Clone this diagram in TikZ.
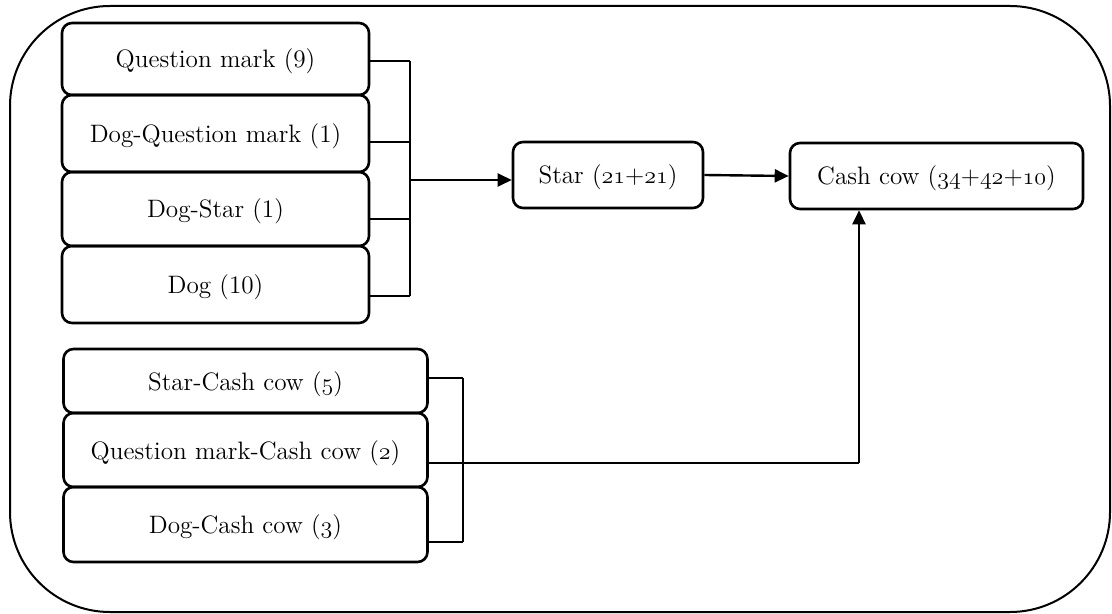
\documentclass[tikz,border=0pt]{standalone}
\usetikzlibrary{arrows.meta}
\newcommand{\osn}[1]{$\mathnormal{#1}$}
\begin{document}
\begin{tikzpicture}[x=0.5pt,y=-0.5pt,
  box/.style={draw,line width=1.3pt,rounded corners=5pt,inner sep=0pt,text height=9pt,text depth=0pt,font=\fontsize{12.6}{14}\selectfont,align=center},
  ln/.style={line width=1.2pt},
  arr/.style={line width=1.2pt,-{Triangle[length=7pt,width=6.5pt]}}]
\useasboundingbox (0,0) rectangle (1112,614);
\draw[line width=1pt,rounded corners=50pt] (10,6) rectangle (1110,612);

% top group
\node[box,minimum width=153.5pt,minimum height=36pt] (q1) at (215.5,59) {Question mark (9)};
\node[box,minimum width=153.5pt,minimum height=38.5pt] (q2) at (215.5,133.5) {Dog-Question mark (1)};
\node[box,minimum width=153.5pt,minimum height=37pt] (q3) at (215.5,209) {Dog-Star (1)};
\node[box,minimum width=153.5pt,minimum height=38.5pt] (q4) at (215.5,284.5) {Dog (10)};

% bottom group
\node[box,minimum width=182pt,minimum height=32pt] (r1) at (245.5,381) {Star-Cash cow (\osn{5})};
\node[box,minimum width=182pt,minimum height=37pt] (r2) at (245.5,450) {Question mark-Cash cow (\osn{2})};
\node[box,minimum width=182pt,minimum height=37.5pt] (r3) at (245.5,524.5) {Dog-Cash cow (\osn{3})};

% right nodes
\node[box,minimum width=95pt,minimum height=33pt] (star) at (608,175) {Star (\osn{21}+\osn{21})};
\node[box,minimum width=146.5pt,minimum height=33pt] (cash) at (936.5,176) {Cash cow (\osn{34}+\osn{42}+\osn{10})};

% bus coordinates
\coordinate (j1) at (410,61);
\coordinate (j2) at (410,142);
\coordinate (j3) at (410,219);
\coordinate (j4) at (410,296);
\coordinate (j0) at (410,180);
\coordinate (m1) at (463,378);
\coordinate (m2) at (463,463);
\coordinate (m3) at (463,542);
\coordinate (k) at (859,463);

\draw[ln] (q1.east |- j1) -- (j1);
\draw[ln] (q2.east |- j2) -- (j2);
\draw[ln] (q3.east |- j3) -- (j3);
\draw[ln] (q4.east |- j4) -- (j4);
\draw[ln] (j1) -- (j4);
\draw[arr] (j0) -- (star.west |- j0);

\draw[ln] (r1.east |- m1) -- (m1);
\draw[ln] (r3.east |- m3) -- (m3);
\draw[ln] (m1) -- (m3);
\draw[ln] (r2.east |- m2) -- (k);
\draw[arr] (k) -- (k |- cash.south);

\draw[arr] (star.east) -- (cash.west);
\end{tikzpicture}
\end{document}
